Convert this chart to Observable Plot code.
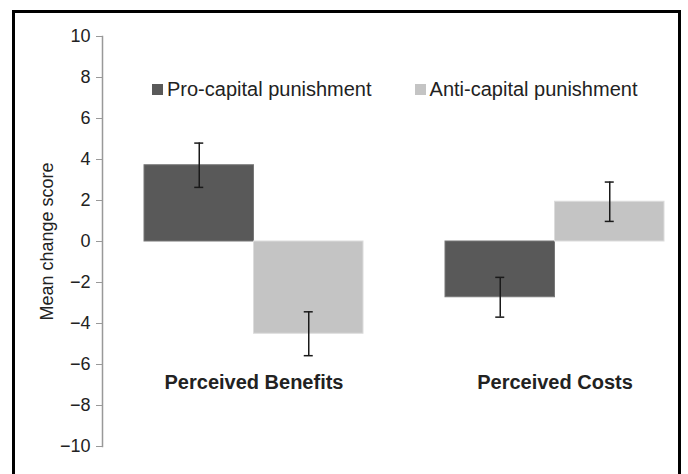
<!DOCTYPE html>
<html><head><meta charset="utf-8">
<script src="https://cdn.jsdelivr.net/npm/d3@7"></script>
<script src="https://cdn.jsdelivr.net/npm/@observablehq/plot@0.6"></script>
<style>
html,body{margin:0;padding:0;background:#fff;overflow:hidden;}
#wrap{position:relative;width:688px;height:474px;overflow:hidden;}
#border{position:absolute;left:12px;top:10px;width:663px;height:480px;border:3px solid #000;pointer-events:none;}
#legend{position:absolute;left:152px;top:73px;}
#legend span{margin-right:43px !important;}
#legend svg{margin-right:4px !important;}
#chart svg{display:block;}
#chart svg g[aria-label^="y-axis tick label"],
#chart svg g[aria-label^="y-axis tick label"] text{font-size:18px !important;}
</style></head><body>
<div id="wrap"><div id="chart"></div><div id="legend"></div><div id="border"></div></div>
<script>
const categories = ["Perceived Benefits", "Perceived Costs"];
const groups = ["Pro-capital punishment", "Anti-capital punishment"];
const proMeans = [3.72, -2.72];
const proErrors = [1.08, 0.97];
const antiMeans = [-4.5, 1.94];
const antiErrors = [1.07, 0.96];
const yTicks = [-10, -8, -6, -4, -2, 0, 2, 4, 6, 8, 10];
const colors = ["#595959", "#c4c4c4"];

const font = "'Liberation Sans', Arial, Helvetica, sans-serif";
const pro = categories.map((c, i) => ({category: c, value: proMeans[i], err: proErrors[i]}));
const anti = categories.map((c, i) => ({category: c, value: antiMeans[i], err: antiErrors[i]}));

const W = 688, H = 474;
const xOpts = {domain: categories, paddingInner: 0.2736, paddingOuter: 0.0968, align: 0.70, axis: null};
const base = {width: W, height: H, marginLeft: 102, marginRight: 7, marginTop: 36, marginBottom: 28};

// probe for bandwidth
const probe = Plot.plot({...base, x: xOpts, y: {domain: [-10, 10]}, marks: [Plot.barY(pro, {x: "category", y: "value"})]});
const bw = probe.scale("x").bandwidth;
const half = bw / 2, q = bw / 4, cap = 4.5;

const lo = d => d.value - d.err, hi = d => d.value + d.err;

const chart = Plot.plot({
  ...base,
  style: {fontFamily: font, fontSize: "17px", color: "#222", background: "transparent", overflow: "visible"},
  x: xOpts,
  y: {domain: [-10, 10], ticks: yTicks, label: null},
  marks: [
    Plot.barY(pro, {x: "category", y: "value", fill: colors[0], stroke: "#777", strokeWidth: 1, insetRight: half}),
    Plot.barY(anti, {x: "category", y: "value", fill: colors[1], stroke: "#dcdcdc", strokeWidth: 1, insetLeft: half}),
    Plot.ruleX(pro, {x: "category", y1: lo, y2: hi, dx: -q, stroke: "#1a1a1a", strokeWidth: 1.5}),
    Plot.ruleX(anti, {x: "category", y1: lo, y2: hi, dx: q, stroke: "#1a1a1a", strokeWidth: 1.5}),
    Plot.tickY(pro, {x: "category", y: lo, dx: -q, insetLeft: half - cap, insetRight: half - cap, stroke: "#1a1a1a", strokeWidth: 1.5}),
    Plot.tickY(pro, {x: "category", y: hi, dx: -q, insetLeft: half - cap, insetRight: half - cap, stroke: "#1a1a1a", strokeWidth: 1.5}),
    Plot.tickY(anti, {x: "category", y: lo, dx: q, insetLeft: half - cap, insetRight: half - cap, stroke: "#1a1a1a", strokeWidth: 1.5}),
    Plot.tickY(anti, {x: "category", y: hi, dx: q, insetLeft: half - cap, insetRight: half - cap, stroke: "#1a1a1a", strokeWidth: 1.5}),
    Plot.frame({anchor: "left", stroke: "#999", strokeWidth: 1.5}),
    Plot.axisY({ticks: yTicks, tickSize: 6, tickPadding: 6, stroke: "#999", fill: "#222", fontSize: 18,
      label: "Mean change score", labelAnchor: "center", labelArrow: "none", labelOffset: 62}),
    Plot.axisX({anchor: "bottom", tickSize: 0, fontWeight: "bold", fontSize: 20, fill: "#222", dy: -81, label: null})
  ]
});
document.getElementById("chart").append(chart);

const leg = Plot.legend({color: {domain: groups, range: colors}, legend: "swatches", swatchSize: 11,
  style: {fontFamily: font, fontSize: "20px", color: "#222", margin: "0", background: "transparent"}});
document.getElementById("legend").append(leg);
</script>
</body></html>
